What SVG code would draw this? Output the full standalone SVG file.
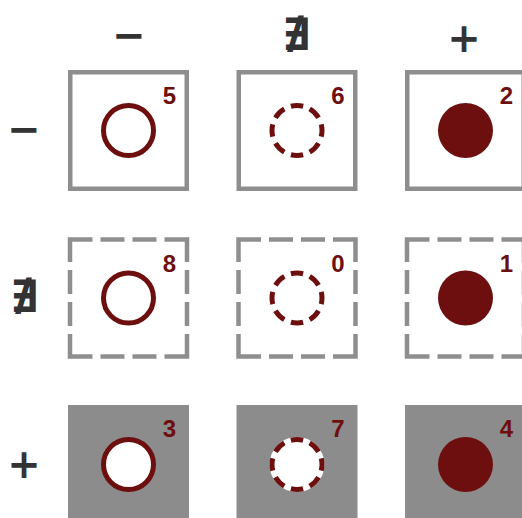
<svg xmlns="http://www.w3.org/2000/svg" width="522" height="518" viewBox="0 0 522 518">
<style>
.box{fill:none;stroke:#8e8e8e;stroke-width:4.5;stroke-linejoin:miter}
.dbox{fill:none;stroke:#8e8e8e;stroke-width:4.5;stroke-dasharray:24 8 24 8 45 8;stroke-dashoffset:113}
.gbox{fill:#8c8c8c}
.ring{fill:none;stroke:#6d0f0f;stroke-width:5}
.wring{fill:#fff;stroke:#6d0f0f;stroke-width:5}
.dring{fill:none;stroke:#6d0f0f;stroke-width:5;stroke-dasharray:6.4 3.6;stroke-dashoffset:3.2}
.dot{fill:#6d0f0f}
.num{font-family:"Liberation Sans",Arial,sans-serif;font-weight:bold;font-size:24px;fill:#6d0f0f;text-anchor:end}
.sym{font-family:"DejaVu Sans",sans-serif;font-weight:bold;font-size:40px;fill:#333;text-anchor:middle}
.nex{font-family:"DejaVu Sans",sans-serif;font-weight:normal;font-size:42px;fill:#333;stroke:#333;stroke-width:2;text-anchor:middle}
</style>
<g id="headers">
<text class="sym" x="129" y="49">−</text>
<text class="nex" x="296" y="49">∄</text>
<text class="sym" x="464" y="52">+</text>
<text class="sym" x="24" y="143">−</text>
<text class="nex" x="24" y="311">∄</text>
<text class="sym" x="24" y="478">+</text>
</g>
<g id="cell-5">
<rect class="box" x="70.25" y="72.25" width="116.5" height="116.5"/>
<circle class="ring" cx="128.5" cy="130.5" r="25"/>
<text class="num" x="176" y="104">5</text>
</g>
<g id="cell-6">
<rect class="box" x="238.75" y="72.25" width="116.5" height="116.5"/>
<circle class="dring" cx="297" cy="130.5" r="25" pathLength="80"/>
<text class="num" x="344.5" y="104">6</text>
</g>
<g id="cell-2">
<rect class="box" x="407.25" y="72.25" width="116.5" height="116.5"/>
<circle class="dot" cx="465.5" cy="130.5" r="27.5"/>
<text class="num" x="513" y="104">2</text>
</g>
<g id="cell-8">
<path class="dbox" d="M96.5 239.5 H187 V356.5 H70 V239.5 Z"/>
<circle class="ring" cx="128.5" cy="298" r="25"/>
<text class="num" x="176" y="271.5">8</text>
</g>
<g id="cell-0">
<path class="dbox" d="M265 239.5 H355.5 V356.5 H238.5 V239.5 Z"/>
<circle class="dring" cx="297" cy="298" r="25" pathLength="80"/>
<text class="num" x="344.5" y="271.5">0</text>
</g>
<g id="cell-1">
<path class="dbox" d="M433.5 239.5 H524 V356.5 H407 V239.5 Z"/>
<circle class="dot" cx="465.5" cy="298" r="27.5"/>
<text class="num" x="513" y="271.5">1</text>
</g>
<g id="cell-3">
<rect class="gbox" x="68" y="405" width="121" height="121"/>
<circle class="wring" cx="128.5" cy="464.5" r="25"/>
<text class="num" x="176" y="437">3</text>
</g>
<g id="cell-7">
<rect class="gbox" x="236.5" y="405" width="121" height="121"/>
<circle fill="#fff" cx="297" cy="464.5" r="27.5"/>
<circle class="dring" cx="297" cy="464.5" r="25" pathLength="80"/>
<text class="num" x="344.5" y="437">7</text>
</g>
<g id="cell-4">
<rect class="gbox" x="405" y="405" width="121" height="121"/>
<circle class="dot" cx="465.5" cy="464.5" r="27.5"/>
<text class="num" x="513" y="437">4</text>
</g>
<g id="connectors"/>
</svg>
